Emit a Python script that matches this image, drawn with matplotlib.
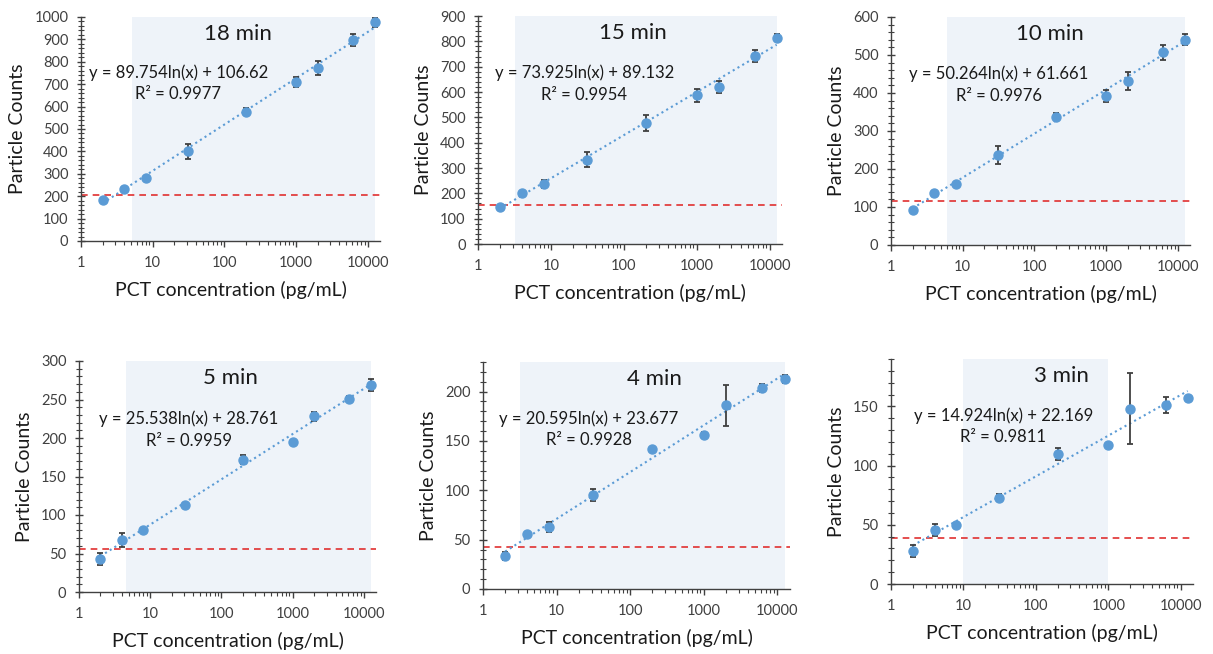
import numpy as np
import matplotlib
matplotlib.use("Agg")
import matplotlib.pyplot as plt
from matplotlib.ticker import MultipleLocator, LogLocator, FixedLocator, NullFormatter

plt.rcParams["font.family"] = ["Lato", "DejaVu Sans"]

# PCT concentrations (pg/mL), shared by all panels
conc = [2, 4, 8, 31.25, 200, 1000, 2000, 6250, 12500]

# particle counts and error bars
counts_18 = [182, 231, 282, 401, 578, 710, 772, 896, 976]
err_18 = [10, 8, 6, 33, 14, 22, 33, 26, 20]
counts_15 = [146, 200, 238, 332, 478, 587, 620, 742, 815]
err_15 = [4, 6, 16, 30, 30, 25, 22, 22, 15]
counts_10 = [92, 137, 160, 236, 338, 393, 432, 507, 540]
err_10 = [5, 5, 4, 24, 10, 16, 24, 20, 14]
counts_5 = [43, 68, 80, 113, 172, 195, 228, 251, 269]
err_5 = [8, 9, 2, 2, 6, 2, 6, 3, 8]
counts_4 = [33, 56, 63, 95, 142, 156, 186, 204, 213]
err_4 = [4, 2, 5, 6, 1, 3, 21, 4, 4]
counts_3 = [27.6, 45.6, 49.5, 73, 110, 117, 148, 151, 157]
err_3 = [5, 5, 2, 3, 5, 1, 30, 7, 1]

# log fit coefficients (slope, intercept, R2)
fit_18 = (89.754, 106.62, 0.9977)
fit_15 = (73.925, 89.132, 0.9954)
fit_10 = (50.264, 61.661, 0.9976)
fit_5 = (25.538, 28.761, 0.9959)
fit_4 = (20.595, 23.677, 0.9928)
fit_3 = (14.924, 22.169, 0.9811)

# blank threshold (red dashed) and shaded linear range
lod = [205, 154, 117, 56, 43, 39]
shade_lo = [5.1, 3.2, 6.0, 4.6, 3.2, 10]
shade_hi = [12500, 12500, 12500, 12500, 12500, 1000]

titles = ["18 min", "15 min", "10 min", "5 min", "4 min", "3 min"]
ymax = [1000, 900, 600, 300, 230, 190]
ymajor = [100, 100, 100, 50, 50, 50]
yminor = [20, 20, 20, 10, 10, 10]

all_counts = [counts_18, counts_15, counts_10, counts_5, counts_4, counts_3]
all_err = [err_18, err_15, err_10, err_5, err_4, err_3]
all_fit = [fit_18, fit_15, fit_10, fit_5, fit_4, fit_3]

# axes boxes in pixels: left, right, top, bottom
W, H = 1213, 654
boxes = [
    (81, 380, 17, 241),
    (478, 782, 16, 244),
    (891, 1190, 17, 245),
    (79, 376, 361, 592),
    (483, 790, 362, 589),
    (891, 1193, 359, 584),
]
title_x = [0.525, 0.51, 0.53, 0.51, 0.557, 0.566]
eq_x = [0.325, 0.35, 0.36, 0.37, 0.345, 0.372]

BLUE = "#5b9bd5"
SHADE = "#eef3f9"
INK = "#1a1a1a"
GREY = "#404040"

fig = plt.figure(figsize=(W / 100, H / 100), dpi=100)

for i in range(6):
    l, r, t, b = boxes[i]
    ax = fig.add_axes([l / W, 1 - b / H, (r - l) / W, (b - t) / H])
    ax.set_xscale("log")
    ax.set_xlim(1, 14800)
    ax.set_ylim(0, ymax[i])

    ax.axvspan(shade_lo[i], shade_hi[i], color=SHADE, zorder=0, lw=0)
    ax.axhline(lod[i], color="#e03030", ls=(0, (4, 3)), lw=1.2, zorder=1)

    a, c, r2 = all_fit[i]
    xs = np.logspace(np.log10(conc[0]), np.log10(conc[-1]), 100)
    ax.plot(xs, a * np.log(xs) + c, color=BLUE, ls=":", lw=1.5, zorder=2)

    ax.errorbar(conc, all_counts[i], yerr=all_err[i], fmt="o", color=BLUE,
                ms=6.5, ecolor=GREY, elinewidth=1.3, capsize=2.5,
                capthick=1.3, zorder=3)

    ax.text(title_x[i], 0.925, titles[i], transform=ax.transAxes,
            ha="center", va="center", fontsize=16, color=INK)
    ax.text(eq_x[i], 0.75, f"y = {a}ln(x) + {c}", transform=ax.transAxes,
            ha="center", va="center", fontsize=12, color=INK)
    ax.text(eq_x[i], 0.655, f"R² = {r2}", transform=ax.transAxes,
            ha="center", va="center", fontsize=12, color=INK)

    ax.spines["top"].set_visible(False)
    ax.spines["right"].set_visible(False)
    for s in ("left", "bottom"):
        ax.spines[s].set_color(GREY)
        ax.spines[s].set_linewidth(1.0)

    ax.xaxis.set_major_locator(FixedLocator([1, 10, 100, 1000, 10000]))
    ax.set_xticklabels(["1", "10", "100", "1000", "10000"])
    ax.xaxis.set_minor_locator(LogLocator(base=10, subs=np.arange(2, 10)))
    ax.xaxis.set_minor_formatter(NullFormatter())
    ax.yaxis.set_major_locator(MultipleLocator(ymajor[i]))
    ax.yaxis.set_minor_locator(MultipleLocator(yminor[i]))
    if ymax[i] % ymajor[i]:
        ax.set_yticks(np.arange(0, ymax[i], ymajor[i]))

    ax.tick_params(axis="x", which="major", length=4, width=1, color=GREY,
                   labelsize=10.5, labelcolor=GREY, pad=7)
    ax.tick_params(axis="x", which="minor", length=3, width=0.8, color=GREY)
    ax.tick_params(axis="y", which="major", direction="inout", length=6,
                   width=1, color=GREY, labelsize=10.5, labelcolor=GREY, pad=6)
    ax.tick_params(axis="y", which="minor", direction="inout", length=4,
                   width=0.8, color=GREY)

    ax.set_xlabel("PCT concentration (pg/mL)", fontsize=14, color=INK,
                  labelpad=8)
    ax.set_ylabel("Particle Counts", fontsize=14, color=INK, labelpad=6)

fig.savefig("out.png", dpi=100)
